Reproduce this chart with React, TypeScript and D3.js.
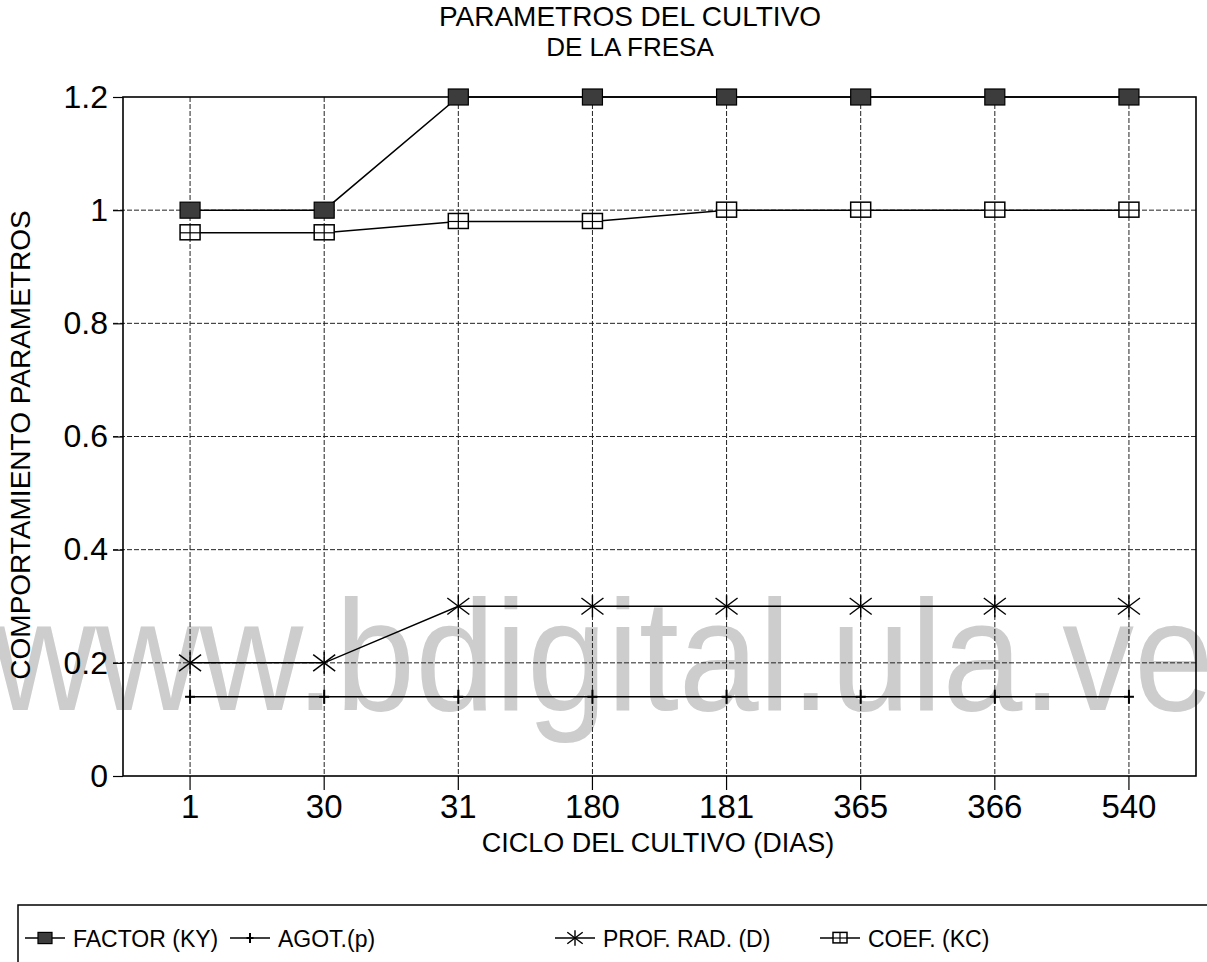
import React, { useEffect, useRef } from 'react';
import * as d3 from 'd3';

// Data
const categories = ['1', '30', '31', '180', '181', '365', '366', '540'];
const factorKY = [1, 1, 1.2, 1.2, 1.2, 1.2, 1.2, 1.2];
const agotP = [0.14, 0.14, 0.14, 0.14, 0.14, 0.14, 0.14, 0.14];
const profRadD = [0.2, 0.2, 0.3, 0.3, 0.3, 0.3, 0.3, 0.3];
const coefKC = [0.96, 0.96, 0.98, 0.98, 1, 1, 1, 1];
const yTicks = [0, 0.2, 0.4, 0.6, 0.8, 1, 1.2];

const seriesNames = ['FACTOR (KY)', 'AGOT.(p)', 'PROF. RAD. (D)', 'COEF. (KC)'];
const seriesSymbols = ['filled', 'plus', 'star', 'open'];

const FONT = '"Liberation Sans", Arial, Helvetica, sans-serif';

// s = scale of the marker (legend uses smaller ones)
const drawSymbol = (g: any, kind: string, x: number, y: number, s = 1) => {
  if (kind === 'filled') {
    g.append('rect')
      .attr('x', x - 10 * s).attr('y', y - 8 * s).attr('width', 20 * s).attr('height', 16 * s)
      .attr('fill', '#3c3c3c').attr('stroke', '#000').attr('stroke-width', 1.2);
  } else if (kind === 'open') {
    g.append('rect')
      .attr('x', x - 10 * s).attr('y', y - 8 * s).attr('width', 20 * s).attr('height', 15 * s)
      .attr('fill', '#fff').attr('stroke', '#000').attr('stroke-width', 1.5);
    g.append('line').attr('x1', x).attr('x2', x).attr('y1', y - 8 * s).attr('y2', y + 7 * s)
      .attr('stroke', '#000').attr('stroke-width', 1.2);
    g.append('line').attr('x1', x - 10 * s).attr('x2', x + 10 * s).attr('y1', y).attr('y2', y)
      .attr('stroke', '#000').attr('stroke-width', 1.2);
  } else if (kind === 'star') {
    const r = 11 * s;
    [[-r, -r * 0.75, r, r * 0.75], [-r, r * 0.75, r, -r * 0.75], [0, -r, 0, r]].forEach((p) => {
      g.append('line')
        .attr('x1', x + p[0]).attr('y1', y + p[1]).attr('x2', x + p[2]).attr('y2', y + p[3])
        .attr('stroke', '#000').attr('stroke-width', 1.4);
    });
  } else if (kind === 'plus') {
    g.append('line').attr('x1', x).attr('x2', x).attr('y1', y - 7 * s).attr('y2', y + 7 * s)
      .attr('stroke', '#000').attr('stroke-width', 2);
    g.append('line').attr('x1', x - 5 * s).attr('x2', x + 5 * s).attr('y1', y).attr('y2', y)
      .attr('stroke', '#000').attr('stroke-width', 2);
  }
};

const App = () => {
  const ref = useRef<SVGSVGElement>(null);

  useEffect(() => {
    const width = 1207;
    const height = 962;
    const margin = { top: 97, right: 11, bottom: 186, left: 123 };
    const innerW = width - margin.left - margin.right;
    const innerH = height - margin.top - margin.bottom;

    const svg = d3.select(ref.current);
    svg.selectAll('*').remove();

    // watermark sits behind everything
    svg.append('text')
      .attr('x', -8).attr('y', 710)
      .attr('textLength', 1222).attr('lengthAdjust', 'spacingAndGlyphs')
      .attr('font-family', FONT).attr('font-size', 158)
      .attr('fill', '#cdcdcd')
      .text('www.bdigital.ula.ve');

    const x = d3.scaleBand().domain(categories).range([0, innerW]).padding(0);
    const y = d3.scaleLinear().domain([0, 1.2]).range([innerH, 0]);
    const cx = (c: string) => (x(c) as number) + x.bandwidth() / 2;

    const chart = svg.append('g').attr('transform', `translate(${margin.left},${margin.top})`);

    // horizontal dashed grid + ticks
    chart.append('g').selectAll('line').data(yTicks.filter((t) => t > 0 && t < 1.2)).enter()
      .append('line')
      .attr('x1', -10).attr('x2', innerW)
      .attr('y1', (d) => y(d)).attr('y2', (d) => y(d))
      .attr('stroke', '#222').attr('stroke-width', 1).attr('stroke-dasharray', '5,2');

    // vertical dashed grid
    chart.append('g').selectAll('line').data(categories).enter()
      .append('line')
      .attr('x1', (d) => cx(d)).attr('x2', (d) => cx(d))
      .attr('y1', 0).attr('y2', innerH)
      .attr('stroke', '#222').attr('stroke-width', 1).attr('stroke-dasharray', '5,2');

    // frame
    chart.append('rect')
      .attr('x', 0).attr('y', 0).attr('width', innerW).attr('height', innerH)
      .attr('fill', 'none').attr('stroke', '#000').attr('stroke-width', 1.6);

    // y axis
    const yAxis = d3.axisLeft(y).tickValues(yTicks).tickSize(10).tickPadding(5)
      .tickFormat((d) => String(+d));
    const yg = chart.append('g').call(yAxis);
    yg.select('.domain').remove();
    yg.selectAll('line').attr('stroke', '#000').attr('stroke-width', 1.2);
    yg.selectAll('text').attr('font-family', FONT).attr('font-size', 32).attr('fill', '#000');

    // x axis
    const xAxis = d3.axisBottom(x).tickSize(14).tickPadding(5);
    const xg = chart.append('g').attr('transform', `translate(0,${innerH})`).call(xAxis);
    xg.select('.domain').remove();
    xg.selectAll('line').attr('stroke', '#000').attr('stroke-width', 1.2);
    xg.selectAll('text').attr('font-family', FONT).attr('font-size', 33).attr('fill', '#000');

    // series
    const allSeries = [factorKY, agotP, profRadD, coefKC];
    const line = d3.line<number>().x((_, i) => cx(categories[i])).y((d) => y(d));
    allSeries.forEach((vals) => {
      chart.append('path').datum(vals)
        .attr('d', line)
        .attr('fill', 'none').attr('stroke', '#000').attr('stroke-width', 1.5);
    });
    allSeries.forEach((vals, si) => {
      const g = chart.append('g');
      vals.forEach((v, i) => drawSymbol(g, seriesSymbols[si], cx(categories[i]), y(v)));
    });

    // titles
    svg.append('text')
      .attr('x', 630).attr('y', 26).attr('text-anchor', 'middle')
      .attr('font-family', FONT).attr('font-size', 28).attr('fill', '#000')
      .text('PARAMETROS DEL CULTIVO');
    svg.append('text')
      .attr('x', 630).attr('y', 56).attr('text-anchor', 'middle')
      .attr('font-family', FONT).attr('font-size', 26).attr('fill', '#000')
      .text('DE LA FRESA');

    svg.append('text')
      .attr('x', 658).attr('y', 852).attr('text-anchor', 'middle')
      .attr('font-family', FONT).attr('font-size', 27).attr('fill', '#000')
      .text('CICLO DEL CULTIVO (DIAS)');

    svg.append('text')
      .attr('transform', 'translate(30,445) rotate(-90)').attr('text-anchor', 'middle')
      .attr('font-family', FONT).attr('font-size', 28).attr('fill', '#000')
      .text('COMPORTAMIENTO PARAMETROS');

    // legend
    const legend = svg.append('g');
    legend.append('rect')
      .attr('x', 18).attr('y', 905).attr('width', 1200).attr('height', 80)
      .attr('fill', 'none').attr('stroke', '#000').attr('stroke-width', 1.5);
    const legendX = [25, 230, 555, 820];
    seriesNames.forEach((name, i) => {
      const lx = legendX[i];
      const ly = 938;
      legend.append('line').attr('x1', lx).attr('x2', lx + 40).attr('y1', ly).attr('y2', ly)
        .attr('stroke', '#000').attr('stroke-width', 1.3);
      drawSymbol(legend, seriesSymbols[i], lx + 20, ly, 0.7);
      legend.append('text')
        .attr('x', lx + 48).attr('y', ly + 9)
        .attr('font-family', FONT).attr('font-size', 23).attr('fill', '#000')
        .text(name);
    });
  }, []);

  return (
    <svg
      ref={ref}
      width={1207}
      height={962}
      style={{ position: 'absolute', left: 0, top: 0, background: '#fff' }}
    />
  );
};

export default App;
